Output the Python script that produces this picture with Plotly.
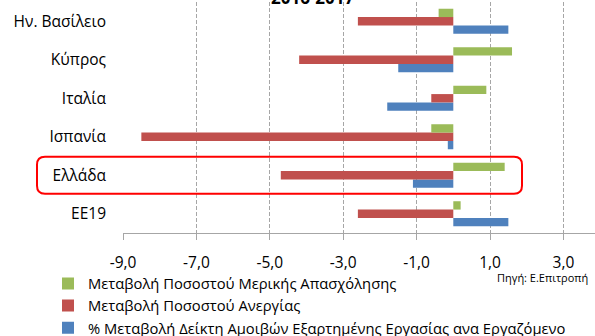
import plotly.graph_objects as go

# ---- data (bottom to top as in axis order) ----
countries = ["ΕΕ19", "Ελλάδα", "Ισπανία", "Ιταλία", "Κύπρος", "Ην. Βασίλειο"]
part_time_change = [0.2, 1.4, -0.6, 0.9, 1.6, -0.4]        # green
unemployment_change = [-2.6, -4.7, -8.5, -0.6, -4.2, -2.6]  # red
compensation_change = [1.5, -1.1, -0.15, -1.8, -1.5, 1.5]   # blue

x_tick_values = [-9, -7, -5, -3, -1, 1, 3]
x_tick_labels = ["-9,0", "-7,0", "-5,0", "-3,0", "-1,0", "1,0", "3,0"]

series_names = [
    "Μεταβολή Ποσοστού Μερικής Απασχόλησης",
    "Μεταβολή Ποσοστού Ανεργίας",
    "% Μεταβολή Δείκτη Αμοιβών Εξαρτημένης Εργασίας ανα Εργαζόμενο",
]
title_text = "2016-2017"
source_text = "Πηγή: Ε.Επιτροπή"
highlight = "Ελλάδα"

GREEN, RED, BLUE = "#9BBB59", "#C0504D", "#4F81BD"
FONT = "'Open Sans', sans-serif"

# ---- geometry ----
W, H = 595, 336
ML, MR, MT = 123, 0, 1.5
PLOT_BOTTOM = 233.5
MB = H - PLOT_BOTTOM
PW = W - ML - MR
PH = PLOT_BOTTOM - MT
XMIN = -9
PX_PER_UNIT = 36.7
XMAX = XMIN + PW / PX_PER_UNIT

def px_x(px):
    return (px - ML) / PW

def px_y(py):
    return (PLOT_BOTTOM - py) / PH

fig = go.Figure()
for vals, name, col in [
    (compensation_change, series_names[2], BLUE),
    (unemployment_change, series_names[1], RED),
    (part_time_change, series_names[0], GREEN),
]:
    fig.add_trace(go.Bar(
        y=countries, x=vals, name=name, orientation="h",
        marker=dict(color=col, line=dict(width=0)),
    ))

fig.update_layout(
    width=W, height=H,
    margin=dict(l=ML, r=MR, t=MT, b=MB, pad=0, autoexpand=False),
    paper_bgcolor="white", plot_bgcolor="white",
    barmode="group", bargap=0.35, bargroupgap=0,
    font=dict(family=FONT, size=15, color="#000000"),
    showlegend=True,
    legend=dict(
        traceorder="reversed",
        x=px_x(48), xanchor="left",
        y=px_y(268), yanchor="top",
        font=dict(family=FONT, size=14.75, color="#000000"),
        bgcolor="rgba(0,0,0,0)",
        tracegroupgap=0, itemclick=False,
    ),
    xaxis=dict(
        range=[XMIN, XMAX], tickmode="array",
        tickvals=x_tick_values, ticktext=x_tick_labels,
        automargin=False,
        showgrid=True, gridcolor="#A6A6A6", gridwidth=1, griddash="4px,2px",
        zeroline=False,
        showline=True, linecolor="#A6A6A6", linewidth=1,
        ticks="outside", ticklen=6, tickcolor="#A6A6A6",
        ticklabelstandoff=9,
        tickfont=dict(family=FONT, size=15.5, color="#000000"),
        fixedrange=True,
    ),
    xaxis2=dict(
        overlaying="x", anchor="y", side="bottom",
        range=[XMIN, XMAX], tickmode="array", tickvals=x_tick_values,
        automargin=False,
        showgrid=False, zeroline=False, showline=False,
        ticks="inside", ticklen=6, tickcolor="#A6A6A6",
        showticklabels=False, fixedrange=True,
    ),
    yaxis=dict(
        type="category", range=[-0.5, 5.5], automargin=False,
        showgrid=False, zeroline=False, showline=False,
        ticks="", ticklabelstandoff=16,
        tickfont=dict(family=FONT, size=15.5, color="#000000"),
        fixedrange=True,
    ),
    yaxis2=dict(
        overlaying="y", anchor="free", position=(0 - XMIN) / (XMAX - XMIN),
        range=[-0.5, 5.5], tickvals=[-0.5, 0.5, 1.5, 2.5, 3.5, 4.5, 5.5],
        automargin=False,
        showgrid=False, zeroline=False,
        showline=True, linecolor="#A6A6A6", linewidth=1,
        ticks="outside", ticklen=5, tickcolor="#A6A6A6",
        showticklabels=False, fixedrange=True,
    ),
)

# title, partly cut at the top as in the reference
fig.add_annotation(
    text="<b>" + title_text + "</b>", xref="paper", yref="paper",
    x=px_x(313), y=px_y(11), xanchor="center", yanchor="bottom",
    showarrow=False, font=dict(family=FONT, size=17, color="#000000"),
)

# source note
fig.add_annotation(
    text=source_text, xref="paper", yref="paper",
    x=px_x(590), y=px_y(278), xanchor="right", yanchor="middle",
    showarrow=False, font=dict(family=FONT, size=11, color="#000000"),
)

# rounded highlight box around Greece
idx = countries.index(highlight)
cat_h = PH / len(countries)
cy = PLOT_BOTTOM - (idx + 0.5) * cat_h
x0, x1 = 37, 522
y0, y1 = cy - 18.5, cy + 18.5
r = 8
def P(x, y):
    return f"{px_x(x):.5f},{px_y(y):.5f}"
path = (
    f"M {P(x0 + r, y0)} L {P(x1 - r, y0)} Q {P(x1, y0)} {P(x1, y0 + r)} "
    f"L {P(x1, y1 - r)} Q {P(x1, y1)} {P(x1 - r, y1)} "
    f"L {P(x0 + r, y1)} Q {P(x0, y1)} {P(x0, y1 - r)} "
    f"L {P(x0, y0 + r)} Q {P(x0, y0)} {P(x0 + r, y0)} Z"
)
fig.add_shape(type="path", path=path, xref="paper", yref="paper",
              line=dict(color="#FF0000", width=2), fillcolor="rgba(0,0,0,0)")

fig.write_html(
    "out.html",
    config={"displayModeBar": False},
    post_script="document.body.style.margin='0px';document.body.style.overflow='hidden';",
)
